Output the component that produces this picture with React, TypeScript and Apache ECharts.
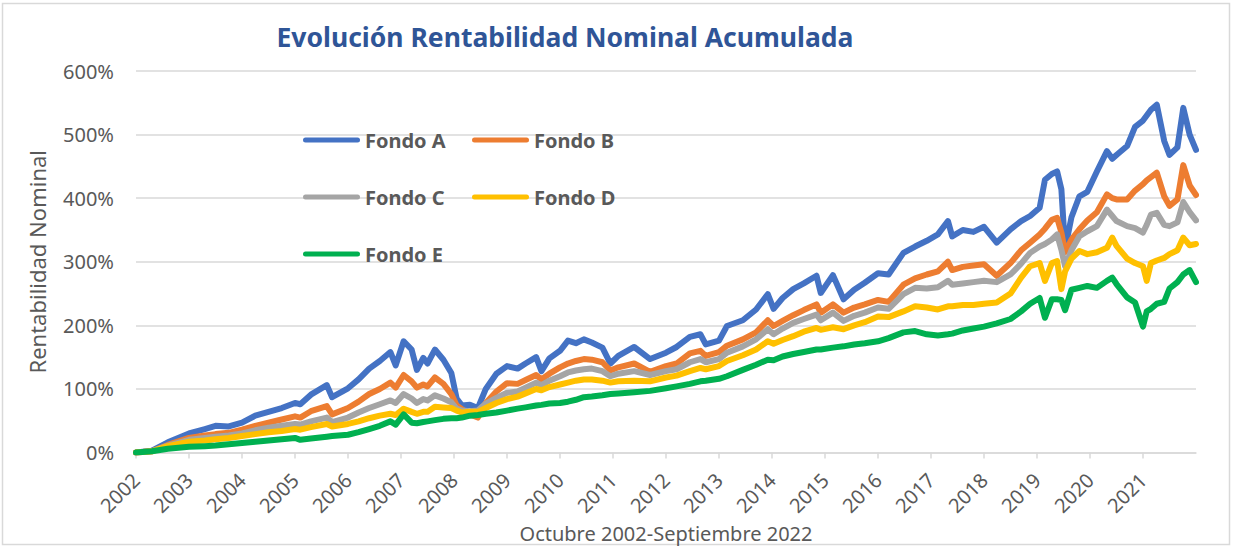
import React, { useEffect, useRef } from 'react';
import * as echarts from 'echarts';

// Time axis: years elapsed since October 2002
const years = [
  0, 0.3, 0.6, 1.0, 1.3, 1.5, 1.75, 2.0, 2.25, 2.5,
  2.75, 3.0, 3.1, 3.3, 3.6, 3.7, 4.0, 4.2, 4.4, 4.6,
  4.8, 4.9, 5.05, 5.2, 5.3, 5.42, 5.5, 5.64, 5.8, 5.95,
  6.05, 6.15, 6.3, 6.45, 6.6, 6.8, 7.0, 7.2, 7.35, 7.55,
  7.65, 7.8, 8.0, 8.15, 8.3, 8.45, 8.6, 8.8, 8.95, 9.1,
  9.4, 9.7, 10.0, 10.2, 10.45, 10.65, 10.75, 11.0, 11.15, 11.45,
  11.7, 11.92, 12.03, 12.2, 12.4, 12.6, 12.84, 12.92, 13.15, 13.35,
  13.55, 13.75, 14.0, 14.2, 14.48, 14.7, 14.92, 15.13, 15.32, 15.4,
  15.6, 15.8, 16.0, 16.24, 16.5, 16.7, 16.87, 17.05, 17.15, 17.28,
  17.38, 17.46, 17.53, 17.65, 17.8, 17.95, 18.13, 18.32, 18.42, 18.5,
  18.7, 18.85, 19.0, 19.07, 19.15, 19.26, 19.4, 19.5, 19.65, 19.76,
  19.88, 20.0,
];

const fondoA = [
  0, 3, 16, 30, 37, 42, 41, 47, 58, 64,
  70, 78, 76, 91, 106, 87, 101, 115, 132, 144,
  158, 137, 175, 162, 130, 149, 140, 162, 146, 125,
  85, 74, 75, 70, 100, 124, 136, 132, 140, 150,
  128, 148, 160, 176, 172, 178, 173, 165, 140, 152,
  166, 147, 157, 166, 182, 186, 170, 176, 199, 208,
  225, 249, 226, 243, 257, 266, 278, 251, 279, 241,
  256, 267, 282, 280, 314, 324, 333, 343, 364, 340,
  350, 347, 355, 330, 351, 364, 372, 385, 429, 438,
  442, 414, 320, 370, 403, 410, 442, 474, 462, 468,
  482, 512, 522, 530, 539, 547, 490, 468, 480, 542,
  500, 476,
];

const fondoB = [
  0, 2, 12, 23, 27, 29, 31, 36, 42, 47,
  52, 57, 55, 65, 73, 60, 70, 80, 92, 100,
  110, 102, 122, 112, 102, 107, 104, 118, 108, 92,
  74, 68, 60, 55, 78, 96, 109, 108, 114, 122,
  115, 124, 134, 140, 144, 147, 146, 142, 129, 134,
  140, 127, 136, 140, 156, 160, 152, 158, 168, 178,
  189, 208, 199, 207, 216, 224, 233, 220, 233, 220,
  228, 233, 240, 237, 264, 274, 280, 285, 300, 287,
  292, 294, 296, 278, 298, 318, 330, 343, 352, 366,
  369, 346, 315, 335, 351, 365, 378, 406, 400, 398,
  398, 412, 422, 428, 433, 440, 403, 388, 398, 452,
  420, 405,
];

const fondoC = [
  0, 2, 11, 20, 23, 25, 27, 30, 35, 39,
  42, 45, 44, 49, 55, 48, 55, 63, 70, 76,
  82, 78, 92, 85, 78, 84, 82, 90, 85, 79,
  69, 66, 65, 66, 77, 86, 94, 96, 102, 110,
  106, 113, 120, 126, 129, 131, 132, 128, 120, 124,
  128, 122, 128, 131, 142, 147, 142, 147, 157, 167,
  178, 194, 186, 195, 204, 210, 217, 208, 220, 207,
  215, 220, 228, 226, 249, 259, 258, 260, 270, 264,
  266, 268, 270, 268, 280, 297, 314, 324, 328, 335,
  343, 319, 293, 318, 340, 348, 356, 382, 372, 364,
  356, 353, 346, 358, 374, 377, 358, 356, 362, 394,
  378, 365,
];

const fondoD = [
  0, 2, 10, 17, 19, 21, 23, 26, 29, 32,
  34, 37, 36, 40, 45, 41, 45, 49, 54, 58,
  61, 59, 69, 64, 61, 64, 64, 72, 71, 70,
  66, 63, 64, 64, 70, 78, 84, 88, 93, 100,
  98, 103, 107, 110, 113, 115, 115, 113, 110, 112,
  113, 112, 118, 121, 128, 133, 131, 136, 144, 153,
  162, 175, 171, 177, 183, 190, 196, 193, 197, 194,
  200, 205, 214, 213, 222, 230, 228, 225, 230, 230,
  232, 232, 234, 236, 250, 275, 293, 298, 270, 298,
  301, 257, 285, 305, 317, 312, 315, 322, 338, 325,
  305, 298, 293, 270, 298, 302, 306, 312, 318, 338,
  326, 328,
];

const fondoE = [
  0, 2, 6, 9, 10, 11, 13, 15, 17, 19,
  21, 23, 20, 22, 25, 26, 28, 32, 37, 42,
  49, 44, 60, 47, 46, 48, 49, 51, 53, 54,
  54, 55, 58, 59, 61, 63, 66, 69, 71, 74,
  75, 77, 78, 80, 83, 87, 88, 90, 92, 93,
  95, 97, 101, 104, 108, 112, 113, 116, 120, 130,
  138, 146, 145, 151, 155, 158, 162, 162, 165, 167,
  170, 172, 175, 180, 189, 191, 186, 184, 186, 187,
  192, 195, 198, 203, 210, 222, 234, 243, 212, 241,
  241, 240, 224, 256, 259, 262, 259, 270, 275, 265,
  244, 236, 198, 222, 226, 234, 237, 258, 268, 280,
  287, 268,
];

const seriesNames = ['Fondo A', 'Fondo B', 'Fondo C', 'Fondo D', 'Fondo E'];
const seriesValues = [fondoA, fondoB, fondoC, fondoD, fondoE];
const seriesColors = ['#4472C4', '#ED7D31', '#A5A5A5', '#FFC000', '#00B050'];
const firstYear = 2002;
const yearCount = 20;

const titleText = 'Evolución Rentabilidad Nominal Acumulada';
const yAxisTitle = 'Rentabilidad Nominal';
const xAxisTitle = 'Octubre 2002-Septiembre 2022';

const FONT = "'Noto Sans', 'DejaVu Sans', sans-serif";
const TEXT = '#595959';
const GRIDC = '#d9d9d9';

export default function App() {
  const ref = useRef<HTMLDivElement>(null);

  useEffect(() => {
    if (!ref.current) return;
    const chart = echarts.init(ref.current, null, { renderer: 'svg' });

    const legendPos = [
      { left: 303, top: 130 },
      { left: 472, top: 130 },
      { left: 303, top: 187 },
      { left: 472, top: 187 },
      { left: 303, top: 244 },
    ];
    const capsule = 'path://M2.5,0 L54.5,0 A2.5,2.5 0 0 1 54.5,5 L2.5,5 A2.5,2.5 0 0 1 2.5,0 Z';

    const option: any = {
      animation: false,
      backgroundColor: '#ffffff',
      title: {
        text: titleText,
        left: 565,
        top: 23,
        textAlign: 'center',
        padding: 0,
        textStyle: {
          fontFamily: FONT,
          fontSize: 26.5,
          fontWeight: 'bold',
          color: '#2F5597',
        },
      },
      legend: seriesNames.map((n, i) => ({
        data: [n],
        left: legendPos[i].left,
        top: legendPos[i].top,
        padding: 0,
        itemWidth: 57,
        itemHeight: 5,
        icon: capsule,
        itemStyle: { borderWidth: 0 },
        selectedMode: false,
        textStyle: {
          fontFamily: FONT,
          fontSize: 20,
          fontWeight: 'bold',
          color: TEXT,
        },
      })),
      grid: {
        left: 136,
        right: 37,
        top: 71,
        bottom: 94,
        containLabel: false,
      },
      xAxis: {
        type: 'value',
        min: 0,
        max: yearCount,
        interval: 1,
        name: xAxisTitle,
        nameLocation: 'middle',
        nameGap: 64,
        nameTextStyle: { fontFamily: FONT, fontSize: 20, color: TEXT },
        axisLine: { show: true, lineStyle: { color: GRIDC, width: 1.5 } },
        axisTick: { show: true, length: 6, lineStyle: { color: GRIDC, width: 1.5 } },
        splitLine: { show: false },
        axisLabel: {
          rotate: 45,
          margin: 24,
          fontFamily: FONT,
          fontSize: 20,
          color: TEXT,
          showMaxLabel: false,
          formatter: (v: number) => (v < yearCount ? String(firstYear + v) : ''),
        },
      },
      yAxis: {
        type: 'value',
        min: 0,
        max: 600,
        interval: 100,
        name: yAxisTitle,
        nameLocation: 'middle',
        nameGap: 88,
        nameTextStyle: { fontFamily: FONT, fontSize: 22, color: TEXT },
        axisLine: { show: false },
        axisTick: { show: false },
        splitLine: { show: true, lineStyle: { color: GRIDC, width: 1.5 } },
        axisLabel: {
          margin: 22,
          fontFamily: FONT,
          fontSize: 20,
          color: TEXT,
          formatter: '{value}%',
        },
      },
      series: seriesNames.map((n, i) => ({
        name: n,
        type: 'line',
        data: years.map((t, k) => [t, seriesValues[i][k]]),
        symbol: 'none',
        showSymbol: false,
        color: seriesColors[i],
        lineStyle: { width: 6, color: seriesColors[i], cap: 'round', join: 'round' },
        emphasis: { disabled: true },
        z: 2 + i,
      })),
      graphic: [
        {
          type: 'rect',
          silent: true,
          shape: { x: 2.5, y: 3.5, width: 1227, height: 541 },
          style: { fill: 'none', stroke: GRIDC, lineWidth: 1.5 },
          z: -1,
        },
      ],
    };

    chart.setOption(option);
    return () => chart.dispose();
  }, []);

  return (
    <div
      ref={ref}
      style={{ position: 'absolute', left: 0, top: 0, width: 1233, height: 548, background: '#fff' }}
    />
  );
}
